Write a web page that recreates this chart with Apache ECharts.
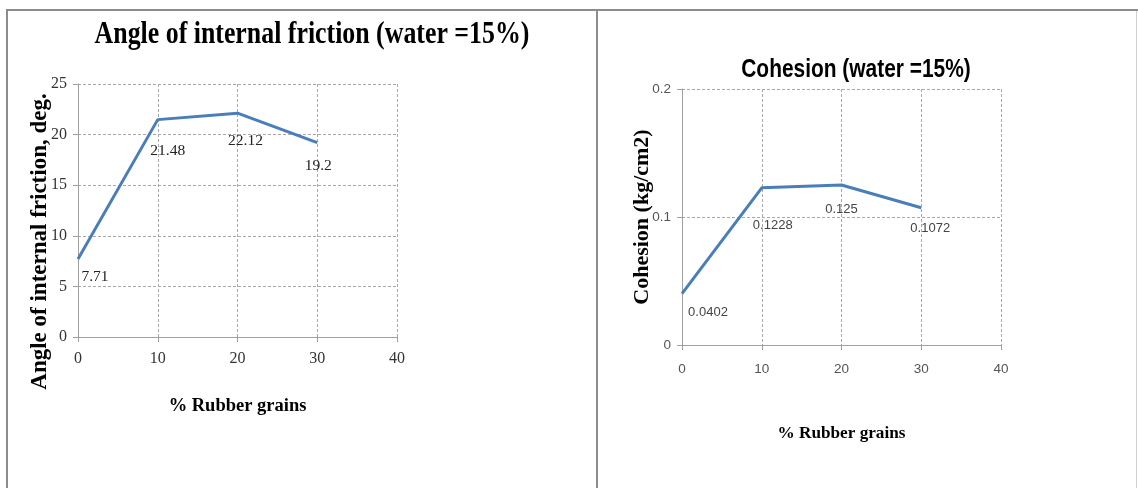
<!DOCTYPE html>
<html>
<head>
<meta charset="utf-8">
<script src="https://cdn.jsdelivr.net/npm/echarts@6/dist/echarts.min.js"></script>
<style>
  html, body { margin: 0; padding: 0; background: #fff; }
  #chart { width: 1138px; height: 488px; }
</style>
</head>
<body>
<div id="chart"></div>
<script>
// ---- data ----
const rubberPercent = [0, 10, 20, 30];
const frictionAngle = [7.71, 21.48, 22.12, 19.2];
const cohesion = [0.0402, 0.1228, 0.125, 0.1072];
const xTickValues = [0, 10, 20, 30, 40];
const frictionTicks = [0, 5, 10, 15, 20, 25];
const cohesionTicks = [0, 0.1, 0.2];

const leftTitle = 'Angle of internal friction (water =15%)';
const rightTitle = 'Cohesion (water =15%)';
const leftYName = 'Angle of internal friction, deg.';
const rightYName = 'Cohesion (kg/cm2)';
const xName = '% Rubber grains';

// ---- styling (label placements, not data) ----
const leftLabelOffsets = [[17, 18], [10, 31], [8, 28], [1, 23]];
const rightLabelOffsets = [[26, 19], [11, 38], [0, 24], [9, 21]];

const serif = "'Liberation Serif', 'Times New Roman', serif";
const sans = "'Liberation Sans', Arial, sans-serif";
const axisGray = '#a0a0a0';
const gridGray = '#a8a8a8';
const lineBlue = '#4a7ebb';

function seriesData(xs, ys, offsets) {
  return xs.map((x, i) => ({
    value: [x, ys[i]],
    label: { offset: offsets[i] }
  }));
}

function xAxisCfg(gridIndex, font, color, size, margin, gap, nameSize) {
  return {
    type: 'value', gridIndex: gridIndex,
    min: xTickValues[0], max: xTickValues[xTickValues.length - 1],
    interval: xTickValues[1] - xTickValues[0],
    name: xName, nameLocation: 'middle', nameGap: gap,
    nameTextStyle: { fontFamily: serif, fontWeight: 'bold', fontSize: nameSize, color: '#000' },
    axisLine: { show: true, lineStyle: { color: axisGray, width: 1 } },
    axisTick: { show: true, length: 5, lineStyle: { color: axisGray } },
    axisLabel: { fontFamily: font, fontSize: size, color: color, margin: margin },
    splitLine: { show: true, lineStyle: { color: gridGray, type: [3, 2], width: 1 } }
  };
}

function yAxisCfg(gridIndex, ticks, font, color, size, name, nameSize, gap, pad) {
  return {
    type: 'value', gridIndex: gridIndex,
    min: ticks[0], max: ticks[ticks.length - 1], interval: ticks[1] - ticks[0],
    name: name, nameLocation: 'middle', nameGap: gap, nameRotate: 90,
    nameMoveOverlap: false,
    nameTextStyle: { fontFamily: serif, fontWeight: 'bold', fontSize: nameSize, color: '#000', padding: pad },
    axisLine: { show: true, lineStyle: { color: axisGray, width: 1 } },
    axisTick: { show: true, length: 5, lineStyle: { color: axisGray } },
    axisLabel: { fontFamily: font, fontSize: size, color: color, margin: 11 },
    splitLine: { show: true, lineStyle: { color: gridGray, type: [3, 2], width: 1 } }
  };
}

function lineSeries(idx, ys, offsets, font, size, color) {
  return {
    type: 'line', xAxisIndex: idx, yAxisIndex: idx,
    data: seriesData(rubberPercent, ys, offsets),
    symbol: 'circle', symbolSize: 0, showSymbol: true,
    lineStyle: { color: lineBlue, width: 3 },
    itemStyle: { color: lineBlue },
    label: {
      show: true, position: 'inside', align: 'center', verticalAlign: 'middle',
      fontFamily: font, fontSize: size, color: color
    },
    emphasis: { disabled: true },
    animation: false
  };
}

function scaledText(text, cx, cy, font, scaleX) {
  return {
    type: 'group', x: cx, y: cy, scaleX: scaleX, scaleY: 1,
    children: [{
      type: 'text', x: 0, y: 0,
      style: {
        text: text, font: font, fill: '#000',
        align: 'center', verticalAlign: 'middle',
        textAlign: 'center', textVerticalAlign: 'middle'
      }
    }]
  };
}

const chart = echarts.init(document.getElementById('chart'), null, { renderer: 'canvas' });

chart.setOption({
  backgroundColor: '#ffffff',
  animation: false,
  grid: [
    { left: 78, top: 84, right: 741, bottom: 151, containLabel: false },
    { left: 682, top: 89, right: 137, bottom: 143, containLabel: false }
  ],
  xAxis: [
    xAxisCfg(0, serif, '#333', 16, 14, 60, 18.5),
    xAxisCfg(1, sans, '#555', 13.5, 17, 80, 17.2)
  ],
  yAxis: [
    yAxisCfg(0, frictionTicks, serif, '#333', 16, leftYName, 23, 26, [0, 62, 0, 0]),
    yAxisCfg(1, cohesionTicks, sans, '#555', 13.5, rightYName, 22, 29, 0)
  ],
  series: [
    lineSeries(0, frictionAngle, leftLabelOffsets, serif, 15.5, '#222'),
    lineSeries(1, cohesion, rightLabelOffsets, sans, 13, '#444')
  ],
  graphic: [
    { type: 'line', shape: { x1: 6, y1: 10, x2: 1138, y2: 10 }, style: { stroke: '#8c8c8c', lineWidth: 2 }, silent: true },
    { type: 'line', shape: { x1: 7, y1: 9, x2: 7, y2: 488 }, style: { stroke: '#8c8c8c', lineWidth: 2 }, silent: true },
    { type: 'line', shape: { x1: 597, y1: 9, x2: 597, y2: 488 }, style: { stroke: '#8c8c8c', lineWidth: 2 }, silent: true },
    { type: 'line', shape: { x1: 1136.5, y1: 11, x2: 1136.5, y2: 488 }, style: { stroke: '#cfcfcf', lineWidth: 1 }, silent: true },
    scaledText(leftTitle, 312, 35, 'bold 31px ' + serif, 0.834),
    scaledText(rightTitle, 856, 70, 'bold 25.5px ' + sans, 0.82)
  ]
});
</script>
</body>
</html>
